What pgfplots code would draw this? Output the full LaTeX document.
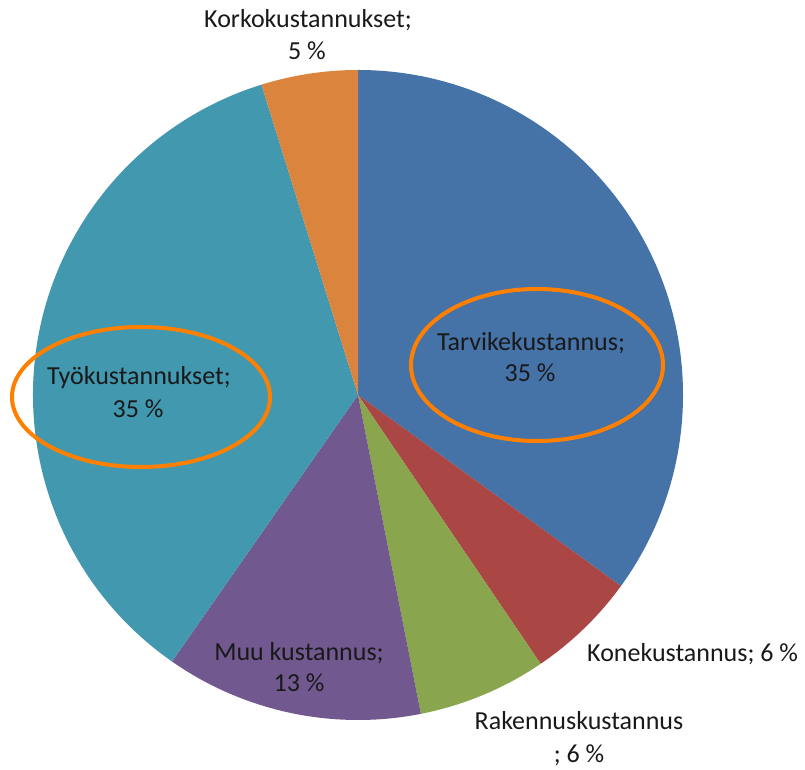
\documentclass[border=0pt]{standalone}
\usepackage{fontspec}
\setmainfont{Carlito}
\usepackage{pgfplots}
\pgfplotsset{compat=1.18}
\usepackage{pgfplotstable}

\definecolor{slice0}{HTML}{4572A7}
\definecolor{slice1}{HTML}{AA4643}
\definecolor{slice2}{HTML}{89A54E}
\definecolor{slice3}{HTML}{71588F}
\definecolor{slice4}{HTML}{4198AF}
\definecolor{slice5}{HTML}{DB843D}
\definecolor{ring}{HTML}{FF8000}

% shares in percent, clockwise from 12 o'clock
\pgfplotstableread{
idx share
0 35.0
1 5.5
2 6.4
3 12.8
4 35.5
5 4.8
}\piedata

\begin{document}
\begin{tikzpicture}[lbl/.style={font=\fontsize{26}{32}\selectfont, text=black!90, inner sep=0pt}]
\begin{axis}[x=1pt, y=1pt, xmin=0, xmax=805, ymin=0, ymax=770,
    hide axis, clip=false]
\coordinate (ll) at (axis cs:0,0);
\coordinate (ur) at (axis cs:805,770);
\xdef\angacc{90}
\pgfplotsinvokeforeach{0,...,5}{
  \pgfplotstablegetelem{#1}{share}\of\piedata
  \pgfmathsetmacro\angend{\angacc-3.6*\pgfplotsretval}
  \edef\slice{\noexpand\fill[slice#1] (axis cs:358,375) -- ++(\angacc:325pt)
    arc[start angle=\angacc, end angle=\angend, radius=325pt] -- cycle;}
  \slice
  \xdef\angacc{\angend}
}

\draw[ring, line width=4pt] (axis cs:537,405) ellipse [x radius=126pt, y radius=76pt];
\draw[ring, line width=4pt] (axis cs:141,373) ellipse [x radius=129pt, y radius=70pt];

\node[lbl, anchor=base] at (axis cs:308,742) {Korkokustannukset;};
\node[lbl, anchor=base] at (axis cs:307,710) {5 \%};
\node[lbl, anchor=base] at (axis cs:531,419) {Tarvikekustannus;};
\node[lbl, anchor=base] at (axis cs:530,388) {35 \%};
\node[lbl, anchor=base] at (axis cs:139,385) {Työkustannukset;};
\node[lbl, anchor=base] at (axis cs:138,352) {35 \%};
\node[lbl, anchor=base] at (axis cs:299,109) {Muu kustannus;};
\node[lbl, anchor=base] at (axis cs:299,78) {13 \%};
\node[lbl, anchor=base west] at (axis cs:587,108) {Konekustannus; 6 \%};
\node[lbl, anchor=base] at (axis cs:579,40) {Rakennuskustannus};
\node[lbl, anchor=base] at (axis cs:579,8) {; 6 \%};
\end{axis}
\pgfresetboundingbox
\path[use as bounding box] (ll) rectangle (ur);
\end{tikzpicture}
\end{document}
